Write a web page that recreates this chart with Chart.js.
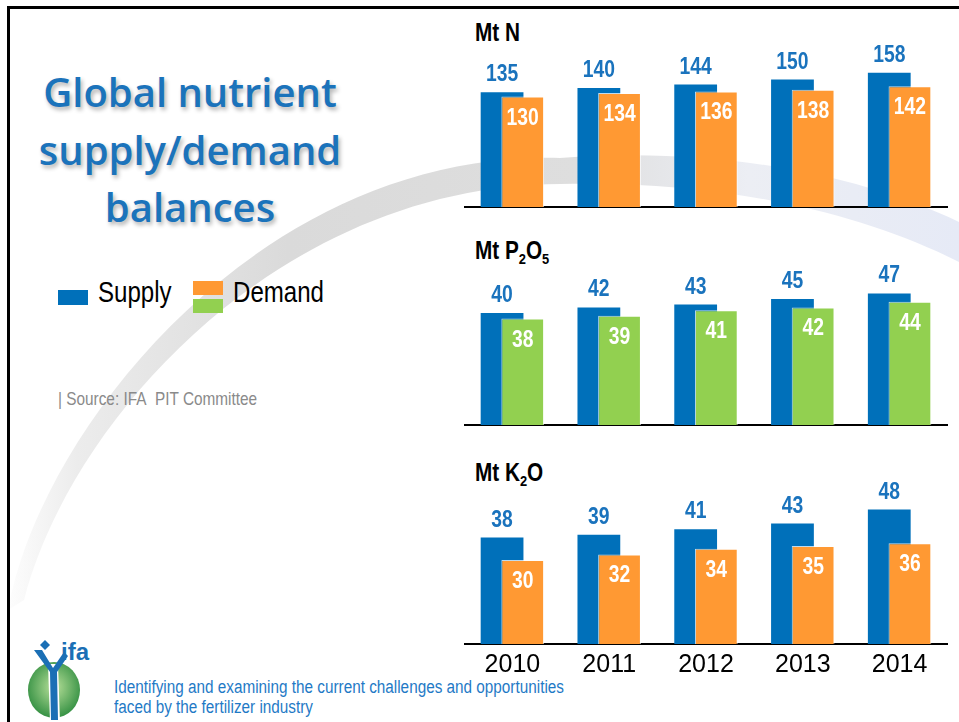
<!DOCTYPE html>
<html>
<head>
<meta charset="utf-8">
<script src="https://cdn.jsdelivr.net/npm/chart.js@4"></script>
<style>
  body { margin: 0; background: #fff; }
  #slide { position: relative; width: 959px; height: 722px; overflow: hidden; background: #fff;
           font-family: "Liberation Sans", Arial, sans-serif; }
  #frame { position: absolute; left: 7px; top: 6px; width: 980px; height: 740px; border-top: 3px solid #000; border-left: 3px solid #000; }
  #swoosh { position: absolute; left: 0; top: 0; }
  .abs { position: absolute; line-height: 1; white-space: nowrap; }
  .narrow { transform: scaleX(0.83); transform-origin: 0 0; }
  .unit { font-weight: bold; font-size: 25px; color: #000; left: 475px; }
  .unit sub { font-size: 62%; vertical-align: -0.3em; line-height: 0; }
  #title { left: 0; top: 63px; width: 380px; text-align: center; line-height: 57.5px;
           font-family: "Open Sans", Lato, sans-serif; font-weight: 600; font-size: 40px; color: #1b73bb;
           text-shadow: 2px 3px 4px rgba(0,0,0,0.3); }
  .swatch { position: absolute; }
  .legtext { font-size: 29px; color: #000; top: 278px; }
  #source { left: 58px; top: 390px; font-size: 18.5px; color: #8a8a8a; }
  #footer { left: 114px; top: 677px; font-size: 18px; color: #1f7ac6; line-height: 20px; transform: scaleX(0.85); }
  .box { position: absolute; left: 464px; width: 484px; }
</style>
</head>
<body>
<div id="slide">
  <svg id="swoosh" width="959" height="722">
    <defs>
      <linearGradient id="band" gradientUnits="userSpaceOnUse" x1="0" y1="0" x2="959" y2="0">
        <stop offset="0" stop-color="#ffffff"/>
        <stop offset="0.08" stop-color="#ececec"/>
        <stop offset="0.3" stop-color="#dadada"/>
        <stop offset="0.6" stop-color="#dedede"/>
        <stop offset="0.78" stop-color="#eceef4"/>
        <stop offset="1" stop-color="#e6eaf6"/>
      </linearGradient>
      <radialGradient id="leaf" cx="0.5" cy="0.45" r="0.6">
        <stop offset="0" stop-color="#b8e09a"/>
        <stop offset="1" stop-color="#2a8a3c"/>
      </radialGradient>
    </defs>
    <path d="M 8 610 C 40 430, 260 150, 560 158 C 720 146, 860 175, 959 222 L 959 262 C 860 212, 720 180, 560 184 C 280 185, 70 420, 24 600 Z" fill="url(#band)"/>
    <!-- ifa logo -->
    <ellipse cx="54" cy="690" rx="26" ry="28" fill="url(#leaf)"/>
    <path d="M 48 664 L 58 664 L 60 722 L 50 722 Z" fill="#fff"/>
    <path d="M 34 650 L 42 650 L 53 668 L 64 652 L 68 656 L 57 672 L 58 720 L 51 720 L 50 672 Z" fill="#1b6fb5"/>
    <path d="M 45 640 L 50 645 L 45 650 L 40 645 Z" fill="#1b6fb5"/>
    <text x="61" y="660" font-family="Liberation Sans, Arial, sans-serif" font-weight="bold" font-size="24" fill="#1b6fb5">ifa</text>
  </svg>
  <div id="frame"></div>

  <div id="title" class="abs">Global nutrient<br>supply/demand<br>balances</div>

  <div class="swatch" style="left:58px;top:290px;width:30px;height:15px;background:#0070ba"></div>
  <div class="abs legtext narrow" style="left:98px">Supply</div>
  <div class="swatch" style="left:193px;top:281px;width:30px;height:14px;background:#ff9933"></div>
  <div class="swatch" style="left:193px;top:299px;width:30px;height:14px;background:#92d050"></div>
  <div class="abs legtext narrow" style="left:233px">Demand</div>

  <div id="source" class="abs narrow">| Source: IFA&nbsp; PIT Committee</div>
  <div id="footer" class="abs narrow">Identifying and examining the current challenges and opportunities<br>faced by the fertilizer industry</div>

  <div class="abs unit narrow" style="top:20px">Mt N</div>
  <div class="abs unit narrow" style="top:238px">Mt P<sub>2</sub>O<sub>5</sub></div>
  <div class="abs unit narrow" style="top:460px">Mt K<sub>2</sub>O</div>

  <div class="box" style="top:17px;height:196px"><canvas id="chartN" width="484" height="196"></canvas></div>
  <div class="box" style="top:237px;height:194px"><canvas id="chartP" width="484" height="194"></canvas></div>
  <div class="box" style="top:456px;height:228px"><canvas id="chartK" width="484" height="228"></canvas></div>
</div>

<script>
const years = ['2010', '2011', '2012', '2013', '2014'];

const nSupply = [135, 140, 144, 150, 158];
const nDemand = [130, 134, 136, 138, 142];
const pSupply = [40, 42, 43, 45, 47];
const pDemand = [38, 39, 41, 42, 44];
const kSupply = [38, 39, 41, 43, 48];
const kDemand = [30, 32, 34, 35, 36];

const BLUE = '#0070ba';
const LABEL_BLUE = '#1a73bd';
const ORANGE = '#ff9933';
const GREEN = '#92d050';
const FONT = '"Liberation Sans", Arial, sans-serif';

// numbers above the supply bars and inside the demand bars (squeezed to look like Arial Narrow)
const valueLabels = {
    id: 'valueLabels',
    afterDatasetsDraw(chart) {
        const ctx = chart.ctx;
        chart.data.datasets.forEach((ds, i) => {
            if (!ds.valueLabel) return;
            const inside = ds.valueLabel === 'inside';
            chart.getDatasetMeta(i).data.forEach((bar, j) => {
                ctx.save();
                ctx.font = 'bold 23px ' + FONT;
                ctx.textAlign = 'center';
                ctx.textBaseline = 'alphabetic';
                ctx.fillStyle = inside ? '#fff' : LABEL_BLUE;
                ctx.translate(bar.x, inside ? bar.y + 28 : bar.y - 11);
                ctx.scale(0.84, 1);
                ctx.fillText(ds.data[j], 0, 0);
                ctx.restore();
            });
        });
    }
};

function makeChart(id, supply, demand, demandColor, yMax, showYears) {
    return new Chart(document.getElementById(id), {
        type: 'bar',
        data: {
            labels: years,
            datasets: [
                // empty placeholder in stack 's' so supply sits on the left but demand is drawn over it
                { label: '', data: [], stack: 's' },
                { label: 'Demand', data: demand, stack: 'd', backgroundColor: demandColor,
                  borderColor: 'rgba(255,255,255,0.75)', borderWidth: 1, valueLabel: 'inside' },
                { label: 'Supply', data: supply, stack: 's', backgroundColor: BLUE, valueLabel: 'above' }
            ]
        },
        options: {
            responsive: false,
            animation: false,
            datasets: { bar: { categoryPercentage: 0.427, barPercentage: 2.07 } },
            layout: { padding: { top: 20, left: 0, right: 0, bottom: 0 } },
            plugins: { legend: { display: false }, tooltip: { enabled: false } },
            scales: {
                x: {
                    grid: { display: false, drawTicks: false },
                    border: { display: true, color: '#000', width: 2 },
                    ticks: { display: showYears, color: '#000', padding: 6, font: { family: FONT, size: 25 } },
                    afterFit: s => { s.height = showYears ? 40 : 6; }
                },
                y: { display: false, min: 0, max: yMax, stacked: false }
            }
        },
        plugins: [valueLabels]
    });
}

makeChart('chartN', nSupply, nDemand, ORANGE, 200, false);
makeChart('chartP', pSupply, pDemand, GREEN, 60, false);
makeChart('chartK', kSupply, kDemand, ORANGE, 60, true);
</script>
</body>
</html>
